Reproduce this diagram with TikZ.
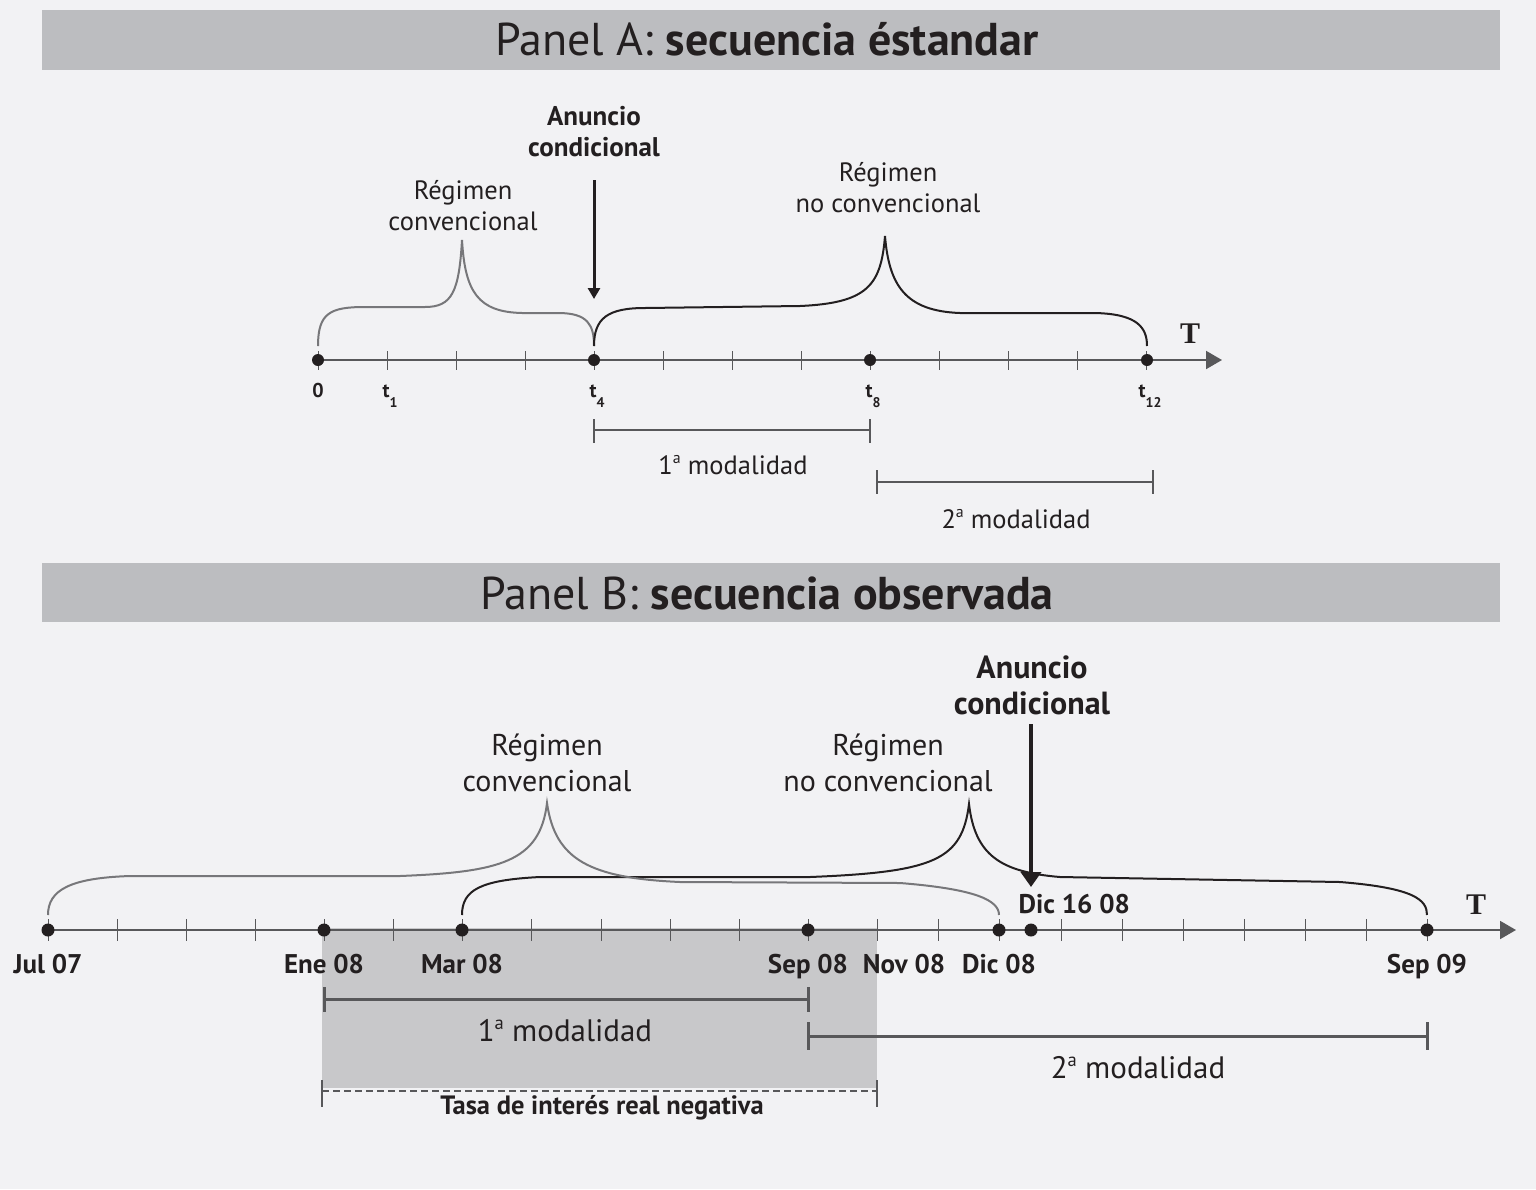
\documentclass[tikz,border=0pt]{standalone}
\usepackage{fontspec}
\setmainfont{PT Sans}
\newfontfamily\serfont{Liberation Serif}
\usetikzlibrary{arrows.meta}
\definecolor{bgc}{HTML}{F2F2F4}
\definecolor{barc}{HTML}{BCBDC0}
\definecolor{axc}{HTML}{58585A}
\definecolor{brg}{HTML}{77777A}
\definecolor{shc}{HTML}{C8C8CA}
\definecolor{ink}{HTML}{231F20}
\newcommand{\tlab}[1]{t\raisebox{-0.5em}{\fontsize{14}{14}\selectfont #1}}
\newcommand{\ord}[1]{#1\raisebox{0.4em}{\fontsize{0.6em}{1em}\selectfont a}}

\begin{document}
\begin{tikzpicture}[x=1pt,y=-1pt,text=ink,
  axisln/.style={draw=axc,line width=2pt,-{Triangle[length=16pt,width=18pt,fill=axc]}},
  tickln/.style={draw=axc,line width=1pt},
  brg/.style={draw=brg,line width=2pt},
  brk/.style={draw=ink,line width=2pt},
  modbar/.style={draw=axc,line width=2pt},
  datelbl/.style={font=\bfseries\fontsize{27}{27}\selectfont,anchor=base},
  reglbl/.style={align=center},
  anclbl/.style={align=center,font=\bfseries}]
  \useasboundingbox (0,0) rectangle (1536,1189);
  \fill[bgc] (0,0) rectangle (1536,1189);
  % encabezados
  \fill[barc] (42,10) rectangle (1500,70);
  \fill[barc] (42,563) rectangle (1500,622);
  \node (titA) at (767,39) {\fontsize{46}{46}\selectfont Panel A: \textbf{secuencia éstandar}};
  \node (titB) at (767,593) {\fontsize{46}{46}\selectfont Panel B: \textbf{secuencia observada}};

  % ---------- Panel A ----------
  \coordinate (A0) at (318,360); \coordinate (A4) at (594,360);
  \coordinate (A8) at (870,360); \coordinate (A12) at (1147,360);
  \coordinate (Aend) at (1222,360);
  \draw[axisln] (A0)--(Aend);
  \foreach \k in {0,...,12}\draw[tickln] ({318+69.08*\k},351)--++(0,19);
  \draw[brg] (318,346) .. controls (318,313) and (330,307) .. (365,307) -- (425,307)
    .. controls (452,307) and (459,292) .. (462,240) .. controls (465,292) and (478,312) .. (522,313)
    -- (558,313) .. controls (588,313) and (594,325) .. (594,346);
  \draw[brk] (594,346) .. controls (594,318) and (608,308) .. (645,308) -- (800,306)
    .. controls (868,303) and (881,285) .. (885,236) .. controls (889,285) and (905,311) .. (960,313)
    -- (1095,313) .. controls (1138,314) and (1147,328) .. (1147,346);
  \foreach \p in {A0,A4,A8,A12}\fill[ink] (\p) circle[radius=6pt];
  \node[font=\bfseries\fontsize{20}{20}\selectfont,anchor=base] (l0) at (318,397) {0};
  \foreach \p/\x/\s in {l1/387/1,l4/594/4,l8/870/8,l12/1147/12}
    \node[font=\bfseries\fontsize{20}{20}\selectfont,anchor=base] (\p) at (\x+3,397) {\tlab{\s}};
  \node[font=\serfont\bfseries\fontsize{30}{30}\selectfont] (TA) at (1190,334) {T};
  \node[anclbl,font=\bfseries\fontsize{27}{31}\selectfont] (ancA) at (594,132) {Anuncio\\condicional};
  \coordinate (ancAtip) at (594,299);
  \draw[ink,line width=3pt,-{Triangle[length=11pt,width=12pt]}] (594,180)--(ancAtip);
  \node[reglbl,font=\fontsize{26.5}{31}\selectfont] (regA1) at (463,206) {Régimen\\convencional};
  \node[reglbl,font=\fontsize{26.5}{31}\selectfont] (regA2) at (888,188) {Régimen\\no convencional};
  \draw[modbar] (594,430)--(870,430) (594,419)--(594,443) (870,419)--(870,443);
  \draw[modbar] (877,482)--(1153,482) (877,470)--(877,494) (1153,470)--(1153,494);
  \node[font=\fontsize{26.5}{26.5}\selectfont] (modA1) at (733,465) {\ord{1} modalidad};
  \node[font=\fontsize{26.5}{26.5}\selectfont] (modA2) at (1016,519) {\ord{2} modalidad};

  % ---------- Panel B ----------
  \fill[shc] (322,928) rectangle (877,1088);
  \coordinate (Bjul) at (48,930); \coordinate (Bene) at (324,930);
  \coordinate (Bmar) at (462,930); \coordinate (Bsep) at (808,930);
  \coordinate (Bdic) at (999,930); \coordinate (Bd16) at (1031,930);
  \coordinate (Bsep9) at (1427,930); \coordinate (Bend) at (1516,930);
  \draw[axisln] (Bjul)--(Bend);
  \foreach \x in {48,117,186,255,324,393,462,531,601,670,739,808,877,938,999,1061,1122,1183,1244,1305,1366,1427}
    \draw[tickln] (\x,919)--++(0,22);
  \draw[brk] (462,915) .. controls (462,890) and (480,880) .. (540,877) -- (810,877)
    .. controls (935,872) and (962,860) .. (969,804) .. controls (975,855) and (1000,872) .. (1060,877)
    -- (1340,882) .. controls (1415,888) and (1427,900) .. (1427,915);
  \draw[brg] (48,915) .. controls (48,890) and (70,878) .. (130,876) -- (400,876)
    .. controls (500,872) and (540,862) .. (547,803) .. controls (555,860) and (590,878) .. (680,882)
    -- (900,883) .. controls (975,889) and (999,900) .. (999,915);
  \foreach \p in {Bjul,Bene,Bmar,Bsep,Bdic,Bd16,Bsep9}\fill[ink] (\p) circle[radius=6.5pt];
  \foreach \p/\x/\t in {djul/48/Jul 07,dene/324/Ene 08,dmar/462/Mar 08,dsep/808/Sep 08,dnov/904/Nov 08,ddic/999/Dic 08,dsep9/1427/Sep 09}
    \node[datelbl] (\p) at (\x,973) {\t};
  \node[datelbl,anchor=base west] (dd16) at (1015,913) {Dic 16 08};
  \node[font=\serfont\bfseries\fontsize{30}{30}\selectfont] (TB) at (1476,905) {T};
  \node[anclbl,font=\bfseries\fontsize{32}{36}\selectfont] (ancB) at (1032,685) {Anuncio\\condicional};
  \coordinate (ancBtip) at (1031,887);
  \draw[ink,line width=4pt,-{Triangle[length=15pt,width=20pt]}] (1031,724)--(ancBtip);
  \node[reglbl,font=\fontsize{30}{36}\selectfont] (regB1) at (547,763) {Régimen\\convencional};
  \node[reglbl,font=\fontsize{30}{36}\selectfont] (regB2) at (888,763) {Régimen\\no convencional};
  \draw[modbar,line width=3pt] (324,999)--(808,999) (324,987)--(324,1012) (808,987)--(808,1012);
  \draw[modbar,line width=3pt] (808,1036)--(1427,1036) (808,1022)--(808,1050) (1427,1022)--(1427,1050);
  \node[font=\fontsize{31}{31}\selectfont] (modB1) at (565,1031) {\ord{1} modalidad};
  \node[font=\fontsize{31}{31}\selectfont] (modB2) at (1138,1068) {\ord{2} modalidad};
  \draw[axc,line width=2pt,dash pattern=on 7pt off 4pt] (322,1091)--(877,1091);
  \draw[axc,line width=2pt] (322,1080)--(322,1107) (877,1080)--(877,1107);
  \node[font=\bfseries\fontsize{26.5}{26.5}\selectfont] (tasa) at (602,1108) {Tasa de interés real negativa};
\end{tikzpicture}
\end{document}
